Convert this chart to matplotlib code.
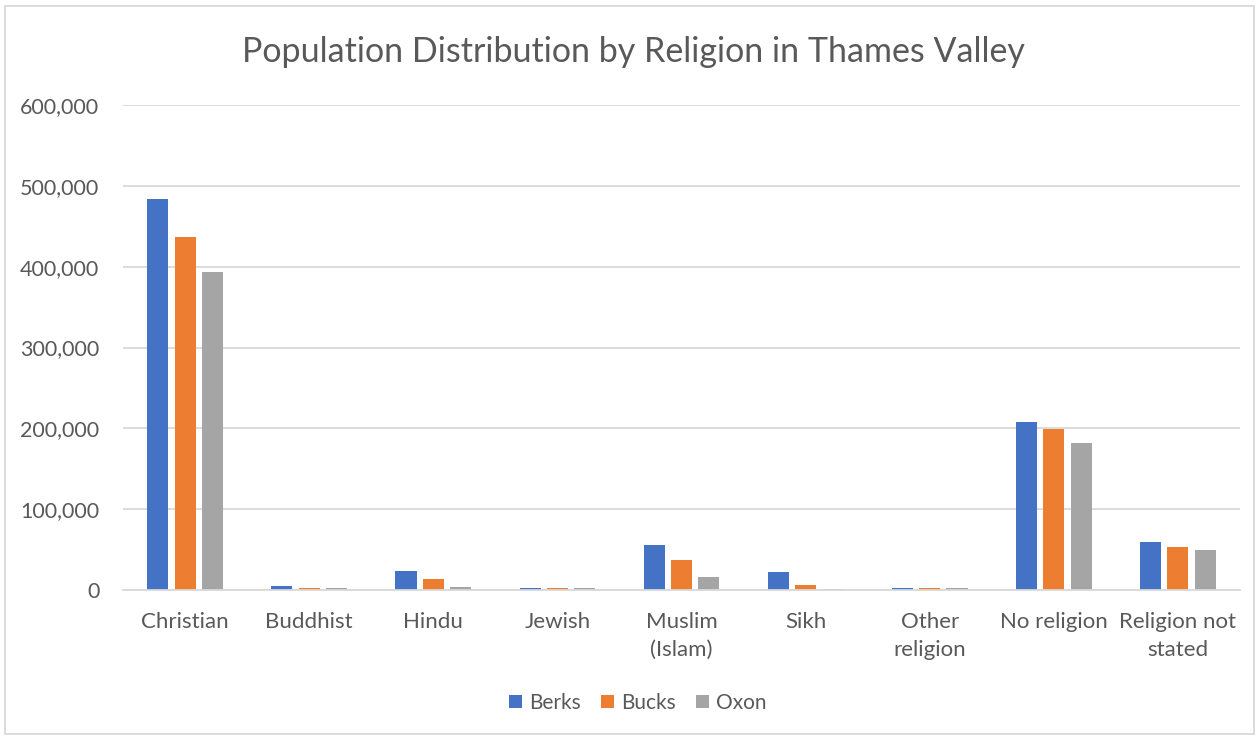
import matplotlib
matplotlib.use("Agg")
import matplotlib.pyplot as plt
from matplotlib.patches import Rectangle
from matplotlib.ticker import FuncFormatter
import numpy as np

categories = ["Christian", "Buddhist", "Hindu", "Jewish", "Muslim\n(Islam)", "Sikh",
              "Other\nreligion", "No religion", "Religion not\nstated"]
series_names = ["Berks", "Bucks", "Oxon"]
berks = [483900, 5000, 23500, 2000, 56000, 21700, 3000, 207300, 58800]
bucks = [436900, 3000, 13400, 2000, 37700, 6400, 3000, 198600, 52600]
oxon = [393900, 3000, 4000, 2000, 15500, 1400, 3000, 182200, 48900]
colors = ["#4472C4", "#ED7D31", "#A5A5A5"]
yticks = [0, 100000, 200000, 300000, 400000, 500000, 600000]

plt.rcParams['font.family'] = ['Lato', 'DejaVu Sans']
fig = plt.figure(figsize=(12.6, 7.36), dpi=100)
ax = fig.add_axes([123/1260, 146/736, (1240-123)/1260, (590-105)/736])

x = np.arange(len(categories))
w = 0.17
off = 0.22
for i, (vals, name, c) in enumerate(zip([berks, bucks, oxon], series_names, colors)):
    ax.bar(x + (i - 1) * off, vals, width=w, color=c, label=name, zorder=3, linewidth=0)

ax.set_xlim(-0.5, len(categories) - 0.5)
ax.set_ylim(0, 600000)
ax.set_yticks(yticks)
ax.yaxis.set_major_formatter(FuncFormatter(lambda v, p: f"{int(v):,}"))
ax.set_xticks(x)
ax.set_xticklabels(categories, fontsize=16, color="#595959", linespacing=1.5)
ax.tick_params(axis='y', labelsize=15.5, colors="#595959", length=0, pad=17)
ax.tick_params(axis='x', length=0, pad=16)
ax.grid(axis='y', color="#D9D9D9", linewidth=1.3, zorder=0)
for s in ['top', 'right', 'left']:
    ax.spines[s].set_visible(False)
ax.spines['bottom'].set_color("#D9D9D9")
ax.spines['bottom'].set_linewidth(1.3)
ax.spines['bottom'].set_zorder(4)

fig.text(633/1260, 1 - 52/736, "Population Distribution by Religion in Thames Valley",
         ha='center', va='center', fontsize=24.5, color="#595959")

leg = fig.legend(loc='center', bbox_to_anchor=(638/1260, 1 - 703/736), ncol=3,
                 frameon=False, fontsize=15, handlelength=0.62, handleheight=0.62,
                 handletextpad=0.35, columnspacing=0.95)
for t in leg.get_texts():
    t.set_color("#595959")

fig.patches.append(Rectangle((5/1260, 2/736), 1249/1260, 728/736, transform=fig.transFigure,
                             fill=False, edgecolor="#D9D9D9", linewidth=1.3))

fig.savefig("out.png", dpi=100)
